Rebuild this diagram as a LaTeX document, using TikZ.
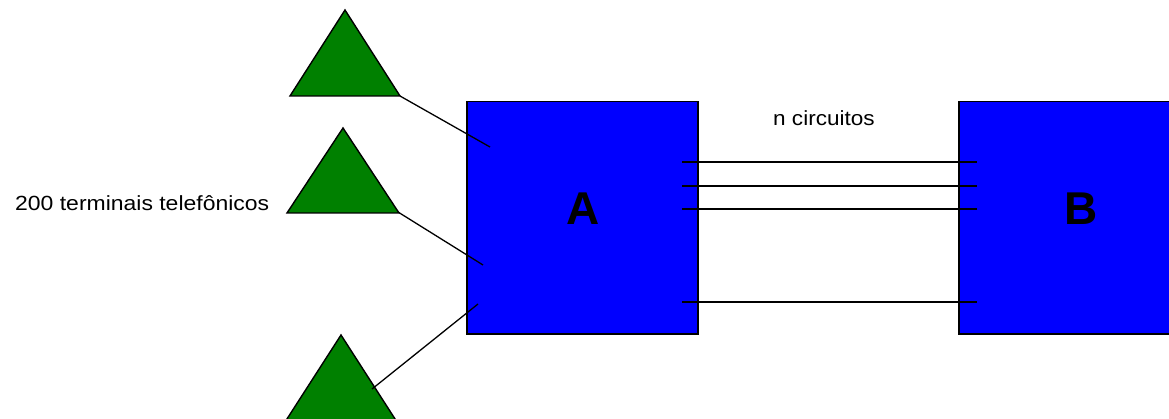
\documentclass[tikz,border=0pt]{standalone}
\usepackage{fontspec}
\setmainfont{Liberation Sans}
\usepackage{graphicx}
\definecolor{boxblue}{RGB}{0,0,255}
\definecolor{termgreen}{RGB}{0,128,0}
\begin{document}
\begin{tikzpicture}[x=1pt,y=-1pt,
  box/.style={draw=black,line width=1.5pt,fill=boxblue,minimum height=232pt,inner sep=0pt,anchor=north west},
  terminal/.style={draw=black,line width=1.4pt,fill=termgreen,line join=miter},
  wire/.style={draw=black,line width=1.3pt},
  letter/.style={font=\fontsize{46}{50}\selectfont\bfseries,inner sep=0pt,anchor=base},
  smalltext/.style={font=\fontsize{20.5}{24}\selectfont,inner sep=0pt,anchor=base west,text=black}
]
\useasboundingbox (0,0) rectangle (1169,419);
% boxes
\node[box,minimum width=231pt] (A) at (466,101) {};
\node[box,minimum width=240pt] (B) at (958,101) {};
\node[letter] (Alabel) at (583.5,224.5) {A};
\node[letter] (Blabel) at (1081,225) {B};
% terminals
\draw[terminal] (345,10) -- (400,96) -- (290,96) -- cycle;
\draw[terminal] (343,128) -- (399,213) -- (287,213) -- cycle;
\draw[terminal] (341,335) -- (397,422) -- (285,422) -- cycle;
\coordinate (t1) at (400,96);
\coordinate (t2) at (398,212);
\coordinate (t3) at (372,389);
\coordinate (a1) at (490,147);
\coordinate (a2) at (483,265);
\coordinate (a3) at (478,304);
\draw[wire] (t1) -- (a1);
\draw[wire] (t2) -- (a2);
\draw[wire] (t3) -- (a3);
% circuits
\foreach \i/\y in {1/162,2/186,3/209,4/302}{
  \coordinate (l\i) at (682,\y);
  \coordinate (r\i) at (977,\y);
  \draw[wire] (l\i) -- (r\i);
}
% labels
\node[smalltext] (circ) at (773,125.5) {\scalebox{1.1}[1]{n circuitos}};
\node[smalltext] (term) at (15,210.5) {\scalebox{1.12}[1]{200 terminais telefônicos}};
\end{tikzpicture}
\end{document}
